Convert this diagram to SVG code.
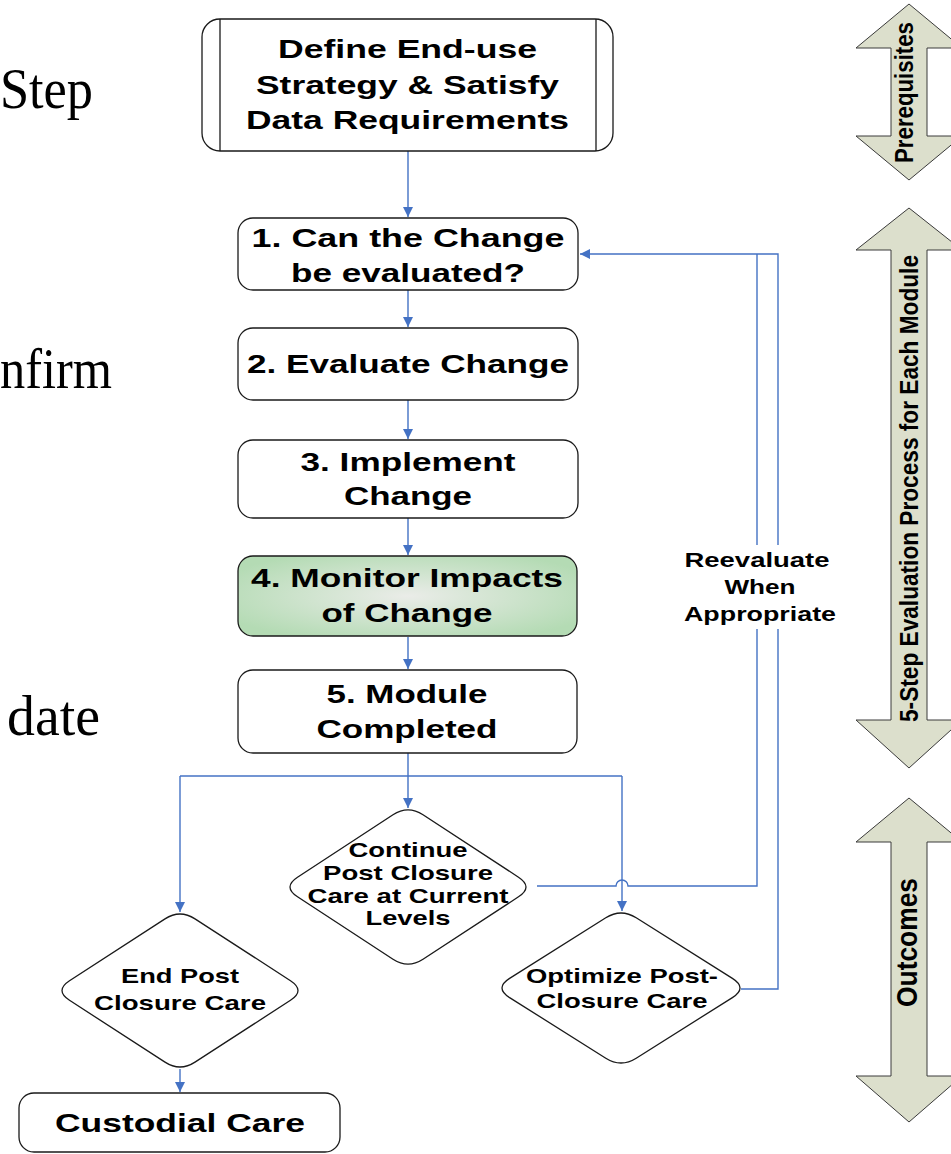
<svg xmlns="http://www.w3.org/2000/svg" width="951" height="1154" viewBox="0 0 951 1154">
  <defs>
    <style>
      .box { fill: #ffffff; stroke: #1a1a1a; stroke-width: 1.3; }
      .lbl { font-family: "Liberation Sans", Arial, sans-serif; font-weight: bold; fill: #000; text-anchor: middle; }
      .big { font-size: 26px; }
      .mid { font-size: 20.5px; }
      .small { font-size: 20px; }
      .side { font-family: "Liberation Serif", "Times New Roman", serif; font-size: 56px; fill: #000; }
      .conn { fill: none; stroke: #4472c4; stroke-width: 1.4; }
      .dbl { fill: #dcdfcc; stroke: #3a3a3a; stroke-width: 1; }
      .vlbl { font-family: "Liberation Sans", Arial, sans-serif; font-weight: bold; fill: #000; text-anchor: middle; }
    </style>
    <marker id="arrow" viewBox="0 0 10 10" refX="10" refY="5" markerWidth="10" markerHeight="10" markerUnits="userSpaceOnUse" orient="auto">
      <path d="M0,0 L10,5 L0,10 z" fill="#4472c4"/>
    </marker>
    <radialGradient id="greenFill" cx="50%" cy="50%" r="60%">
      <stop offset="0" stop-color="#eaece8"/>
      <stop offset="1" stop-color="#b4dbb4"/>
    </radialGradient>
  </defs>

  <!-- clipped slide text on the left edge -->
  <g id="side-text">
    <text class="side" x="0" y="108" textLength="93" lengthAdjust="spacingAndGlyphs">Step</text>
    <text class="side" x="0" y="388" textLength="112" lengthAdjust="spacingAndGlyphs">nfirm</text>
    <text class="side" x="7" y="735" textLength="93" lengthAdjust="spacingAndGlyphs">date</text>
  </g>

  <!-- connectors -->
  <g id="connectors">
    <path class="conn" d="M408,151 V217" marker-end="url(#arrow)"/>
    <path class="conn" d="M408,290 V327" marker-end="url(#arrow)"/>
    <path class="conn" d="M408,400 V439" marker-end="url(#arrow)"/>
    <path class="conn" d="M408,518 V555" marker-end="url(#arrow)"/>
    <path class="conn" d="M408,637 V669" marker-end="url(#arrow)"/>
    <path class="conn" d="M408,753 V808" marker-end="url(#arrow)"/>
    <path class="conn" d="M180,776 H622"/>
    <path class="conn" d="M180,776 V912" marker-end="url(#arrow)"/>
    <path class="conn" d="M622,776 V911" marker-end="url(#arrow)"/>
    <path class="conn" d="M180,1069 V1092" stroke-width="1.2" marker-end="url(#arrow)"/>
    <!-- loop back from "Continue" with a hop over the vertical line -->
    <path class="conn" d="M537,886 H616 A6,6 0 0 1 628,886 H757 V254"/>
    <!-- loop back from "Optimize" -->
    <path class="conn" d="M741,989 H778 V254 H580" marker-end="url(#arrow)"/>
  </g>

  <!-- loop label with white backing -->
  <g id="reevaluate-label">
    <rect x="680" y="545" width="162" height="84" fill="#ffffff"/>
    <text class="lbl small" x="757" y="567" textLength="145" lengthAdjust="spacingAndGlyphs">Reevaluate</text>
    <text class="lbl small" x="760" y="594" textLength="71" lengthAdjust="spacingAndGlyphs">When</text>
    <text class="lbl small" x="760" y="621" textLength="152" lengthAdjust="spacingAndGlyphs">Appropriate</text>
  </g>

  <!-- predefined-process box -->
  <g id="define-strategy">
    <rect class="box" x="202" y="19" width="411" height="132" rx="18" ry="18"/>
    <line x1="220" y1="19" x2="220" y2="151" stroke="#1a1a1a" stroke-width="1.3"/>
    <line x1="596" y1="19" x2="596" y2="151" stroke="#1a1a1a" stroke-width="1.3"/>
    <text class="lbl big" x="407.5" y="58" textLength="259" lengthAdjust="spacingAndGlyphs">Define End-use</text>
    <text class="lbl big" x="407.5" y="94" textLength="303" lengthAdjust="spacingAndGlyphs">Strategy &amp; Satisfy</text>
    <text class="lbl big" x="407.5" y="129" textLength="323" lengthAdjust="spacingAndGlyphs">Data Requirements</text>
  </g>

  <g id="step1">
    <rect class="box" x="238" y="218" width="340" height="72" rx="15" ry="15"/>
    <text class="lbl big" x="408" y="247" textLength="313" lengthAdjust="spacingAndGlyphs">1. Can the Change</text>
    <text class="lbl big" x="408" y="282" textLength="234" lengthAdjust="spacingAndGlyphs">be evaluated?</text>
  </g>

  <g id="step2">
    <rect class="box" x="238" y="328" width="340" height="72" rx="15" ry="15"/>
    <text class="lbl big" x="408" y="373" textLength="322" lengthAdjust="spacingAndGlyphs">2. Evaluate Change</text>
  </g>

  <g id="step3">
    <rect class="box" x="238" y="440" width="340" height="78" rx="15" ry="15"/>
    <text class="lbl big" x="408" y="471" textLength="215" lengthAdjust="spacingAndGlyphs">3. Implement</text>
    <text class="lbl big" x="408" y="505" textLength="128" lengthAdjust="spacingAndGlyphs">Change</text>
  </g>

  <g id="step4">
    <rect x="238" y="556" width="339" height="80" rx="15" ry="15" fill="url(#greenFill)" stroke="#1a1a1a" stroke-width="1.3"/>
    <text class="lbl big" x="407" y="587" textLength="312" lengthAdjust="spacingAndGlyphs">4. Monitor Impacts</text>
    <text class="lbl big" x="407" y="622" textLength="171" lengthAdjust="spacingAndGlyphs">of Change</text>
  </g>

  <g id="step5">
    <rect class="box" x="238" y="670" width="339" height="83" rx="15" ry="15"/>
    <text class="lbl big" x="407" y="703" textLength="161" lengthAdjust="spacingAndGlyphs">5. Module</text>
    <text class="lbl big" x="407" y="738" textLength="181" lengthAdjust="spacingAndGlyphs">Completed</text>
  </g>

  <!-- decision diamonds with rounded tips -->
  <g id="continue-care">
    <path class="box" d="M423,814.8 L518.5,877.2 Q533.5,887 518.5,896.8 L423,959.2 Q408,969 393,959.2 L297.5,896.8 Q282.5,887 297.5,877.2 L393,814.8 Q408,805 423,814.8 Z"/>
    <text class="lbl mid" x="408" y="857" textLength="119" lengthAdjust="spacingAndGlyphs">Continue</text>
    <text class="lbl mid" x="408" y="880" textLength="170" lengthAdjust="spacingAndGlyphs">Post Closure</text>
    <text class="lbl mid" x="408" y="903" textLength="201" lengthAdjust="spacingAndGlyphs">Care at Current</text>
    <text class="lbl mid" x="408" y="925" textLength="85" lengthAdjust="spacingAndGlyphs">Levels</text>
  </g>

  <g id="end-care">
    <path class="box" d="M195,918.9 L290.5,980.7 Q305.5,990.5 290.5,1000.3 L195,1062.1 Q180,1071.9 165,1062.1 L69.5,1000.3 Q54.5,990.5 69.5,980.7 L165,918.9 Q180,909.1 195,918.9 Z"/>
    <text class="lbl mid" x="180" y="983" textLength="118" lengthAdjust="spacingAndGlyphs">End Post</text>
    <text class="lbl mid" x="180" y="1010" textLength="172" lengthAdjust="spacingAndGlyphs">Closure Care</text>
  </g>

  <g id="optimize-care">
    <path class="box" d="M636.2,917.8 L732.4,978.4 Q747.6,988 732.4,997.6 L636.2,1058.2 Q621,1067.8 605.8,1058.2 L509.6,997.6 Q494.4,988 509.6,978.4 L605.8,917.8 Q621,908.2 636.2,917.8 Z"/>
    <text class="lbl mid" x="622" y="983" textLength="192" lengthAdjust="spacingAndGlyphs">Optimize Post-</text>
    <text class="lbl mid" x="622" y="1008" textLength="171" lengthAdjust="spacingAndGlyphs">Closure Care</text>
  </g>

  <g id="custodial-care">
    <rect class="box" x="19" y="1093" width="321" height="59" rx="15" ry="15"/>
    <text class="lbl big" x="180" y="1132" textLength="250" lengthAdjust="spacingAndGlyphs">Custodial Care</text>
  </g>

  <!-- phase arrows on the right -->
  <g id="phase-prerequisites">
    <path class="dbl" d="M909,4 L962,48 H927 V136 H962 L909,180 L856,136 H891 V48 H856 Z"/>
    <text class="vlbl" transform="translate(913,92.5) scale(1.15,1) rotate(-90)" font-size="22.3" textLength="141" lengthAdjust="spacingAndGlyphs">Prerequisites</text>
  </g>

  <g id="phase-evaluation">
    <path class="dbl" d="M909,208 L962,250 H927 V720 H962 L909,768 L856,720 H891 V250 H856 Z"/>
    <text class="vlbl" transform="translate(918,488.5) scale(1.15,1) rotate(-90)" font-size="22.6" textLength="467" lengthAdjust="spacingAndGlyphs">5-Step Evaluation Process for Each Module</text>
  </g>

  <g id="phase-outcomes">
    <path class="dbl" d="M909,798 L962,842 H927 V1076 H962 L909,1122 L856,1076 H891 V842 H856 Z"/>
    <text class="vlbl" transform="translate(916.5,942.5) scale(1.13,1) rotate(-90)" font-size="26.4" textLength="129" lengthAdjust="spacingAndGlyphs">Outcomes</text>
  </g>
</svg>
